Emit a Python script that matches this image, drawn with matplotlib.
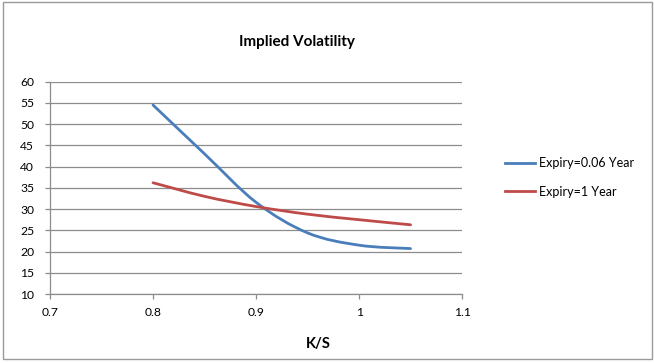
import matplotlib
matplotlib.use("Agg")
import matplotlib.pyplot as plt
from matplotlib.path import Path
from matplotlib.patches import PathPatch, Rectangle
from matplotlib.lines import Line2D

plt.rcParams['font.family'] = ['Lato', 'DejaVu Sans']

ks = [0.8, 0.85, 0.9, 0.95, 1.0, 1.05]
vol_short = [54.5, 43.0, 31.6, 24.4, 21.5, 20.7]
vol_long = [36.2, 33.0, 30.6, 28.8, 27.5, 26.3]
series_names = ["Expiry=0.06 Year", "Expiry=1 Year"]
colors = ["#4A7EBB", "#BE4B48"]
xticks = [0.7, 0.8, 0.9, 1.0, 1.1]
xticklabels = ["0.7", "0.8", "0.9", "1", "1.1"]
yticks = list(range(10, 61, 5))


def smooth_path(x, y):
    # Excel-style smoothed line: cubic Bezier through the points
    verts = [(x[0], y[0])]
    codes = [Path.MOVETO]
    n = len(x)
    for i in range(n - 1):
        x0, y0 = (x[i - 1], y[i - 1]) if i > 0 else (x[i], y[i])
        x1, y1 = x[i], y[i]
        x2, y2 = x[i + 1], y[i + 1]
        x3, y3 = (x[i + 2], y[i + 2]) if i + 2 < n else (x2, y2)
        c1 = (x1 + (x2 - x0) / 6, y1 + (y2 - y0) / 6)
        c2 = (x2 - (x3 - x1) / 6, y2 - (y3 - y1) / 6)
        verts += [c1, c2, (x2, y2)]
        codes += [Path.CURVE4] * 3
    return Path(verts, codes)


fig = plt.figure(figsize=(6.54, 3.63), dpi=100)
fig.patches.append(Rectangle((0.004, 0.012), 0.993, 0.982, transform=fig.transFigure,
                             fill=False, edgecolor="#9a9a9a", linewidth=1.0))

ax = fig.add_axes([0.0765, 0.190, 0.630, 0.585])
for y, c in zip([vol_short, vol_long], colors):
    ax.add_patch(PathPatch(smooth_path(ks, y), facecolor="none", edgecolor=c,
                           linewidth=2.0, capstyle="round", zorder=3))

ax.set_xlim(0.7, 1.1)
ax.set_ylim(10, 60)
ax.set_xticks(xticks)
ax.set_xticklabels(xticklabels)
ax.set_yticks(yticks)
ax.yaxis.grid(True, color="#8c8c8c", linewidth=0.9)
ax.set_axisbelow(True)
for s in ["top", "right"]:
    ax.spines[s].set_visible(False)
for s in ["left", "bottom"]:
    ax.spines[s].set_color("#8c8c8c")
    ax.spines[s].set_linewidth(0.9)
ax.tick_params(axis="both", direction="out", length=3.5, width=0.9, color="#8c8c8c",
               labelsize=8.7, labelcolor="#000000")
ax.tick_params(axis="x", pad=6)
ax.tick_params(axis="y", pad=8)

fig.text(0.4535, 0.884, "Implied Volatility", ha="center", va="center",
         fontsize=11, fontweight="bold")
fig.text(0.486, 0.052, "K/S", ha="center", va="center", fontsize=10.5, fontweight="bold")

handles = [Line2D([], [], color=c, linewidth=2.0) for c in colors]
leg = fig.legend(handles, series_names, loc="upper left", bbox_to_anchor=(0.765, 0.580),
                 frameon=False, fontsize=9, handlelength=2.4, handletextpad=0.3,
                 labelspacing=1.3, borderaxespad=0)

fig.savefig("out.png", dpi=100)
